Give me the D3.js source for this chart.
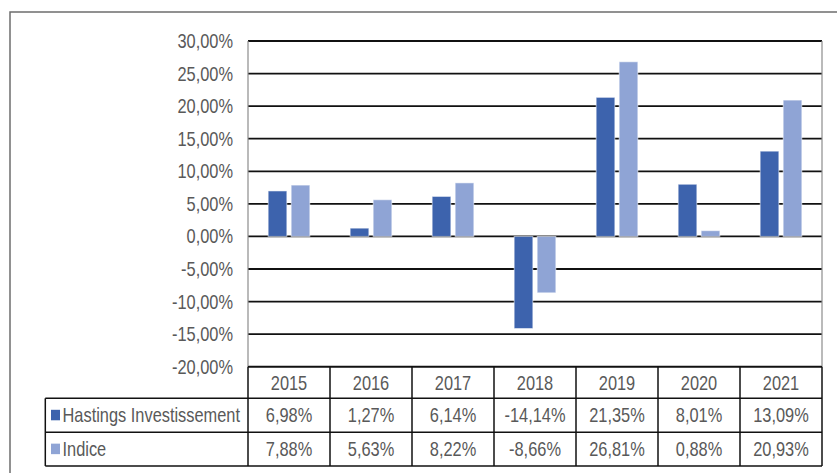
<!DOCTYPE html>
<html>
<head>
<meta charset="utf-8">
<script src="https://cdn.jsdelivr.net/npm/d3@7"></script>
<style>
  body { margin: 0; background: #fff; }
  text { font-family: "Liberation Sans", Arial, sans-serif; fill: #595959; }
</style>
</head>
<body>
<script>
// data
var years = ["2015", "2016", "2017", "2018", "2019", "2020", "2021"];
var seriesNames = ["Hastings Investissement", "Indice"];
var hastings = [6.98, 1.27, 6.14, -14.14, 21.35, 8.01, 13.09];
var indice = [7.88, 5.63, 8.22, -8.66, 26.81, 0.88, 20.93];
var yTicks = [30, 25, 20, 15, 10, 5, 0, -5, -10, -15, -20];
var colors = ["#3d63ad", "#8fa4d5"];

var width = 837, height = 473;
var plotL = 248, plotR = 822, plotT = 41, plotB = 366.7;
var rowH = [31.6, 34, 33.7];  // header row, series rows
var tableL = 45.3;

var svg = d3.select('body').append('svg').attr('width', width).attr('height', height);

// scales
var x = d3.scaleBand().domain(years).range([plotL, plotR]);
var xs = d3.scaleBand().domain(seriesNames).range([0, x.bandwidth()])
    .paddingInner(0.187).paddingOuter(0.876);
var y = d3.scaleLinear().domain([-20, 30]).range([plotB, plotT]);

// narrow text helper (Arial Narrow look)
function label(g, tx, ty, str, anchor) {
    return g.append('g').attr('transform', 'translate(' + tx + ',' + ty + ') scale(0.82,1)')
        .append('text')
        .attr('text-anchor', anchor)
        .attr('dy', '0.35em')
        .attr('font-size', '20px')
        .text(str);
}

function pct(v) {
    return v.toFixed(2).replace('.', ',') + '%';
}

// outer frame
svg.append('path')
    .attr('d', 'M10,' + height + 'V12H' + width)
    .attr('fill', 'none').attr('stroke', '#6e6e6e').attr('stroke-width', 1.5);

// gridlines
svg.append('g').selectAll('line')
    .data(yTicks)
    .join('line')
    .attr('x1', plotL).attr('x2', plotR)
    .attr('y1', d => y(d)).attr('y2', d => y(d))
    .attr('stroke', '#111').attr('stroke-width', 1.8);

// plot side edges
svg.append('line').attr('x1', plotL).attr('x2', plotL).attr('y1', plotT).attr('y2', plotB)
    .attr('stroke', '#8c8c8c').attr('stroke-width', 1.2);
svg.append('line').attr('x1', plotR).attr('x2', plotR).attr('y1', plotT).attr('y2', plotB)
    .attr('stroke', '#8c8c8c').attr('stroke-width', 1.2);

// y labels
var yl = svg.append('g');
yTicks.forEach(function(t) {
    label(yl, 233, y(t), pct(t), 'end');
});

// bars
var allSeries = [hastings, indice];
var bars = svg.append('g');
allSeries.forEach(function(vals, s) {
    bars.selectAll('rect.s' + s)
        .data(vals)
        .join('rect')
        .attr('class', 's' + s)
        .attr('x', (d, i) => x(years[i]) + xs(seriesNames[s]))
        .attr('width', xs.bandwidth())
        .attr('y', d => y(Math.max(0, d)))
        .attr('height', d => Math.abs(y(d) - y(0)))
        .attr('fill', colors[s])
        .attr('stroke', '#ffffff').attr('stroke-opacity', 0.55).attr('stroke-width', 1);
});

// data table
var row0 = plotB, row1 = row0 + rowH[0], row2 = row1 + rowH[1], row3 = row2 + rowH[2];
var tbl = svg.append('g');
var lineCol = '#111';

// horizontal lines
[[plotL, row0], [tableL, row1], [tableL, row2], [tableL, row3]].forEach(function(p) {
    tbl.append('line').attr('x1', p[0]).attr('x2', plotR).attr('y1', p[1]).attr('y2', p[1])
        .attr('stroke', lineCol).attr('stroke-width', 1.6);
});
// vertical lines
var vx = years.map(d => x(d)).concat([plotR]);
vx.forEach(function(vxi) {
    tbl.append('line').attr('x1', vxi).attr('x2', vxi).attr('y1', row0).attr('y2', row3)
        .attr('stroke', lineCol).attr('stroke-width', 1.5);
});
tbl.append('line').attr('x1', tableL).attr('x2', tableL).attr('y1', row1).attr('y2', row3)
    .attr('stroke', lineCol).attr('stroke-width', 1.5);

// year header
years.forEach(function(yr) {
    label(tbl, x(yr) + x.bandwidth() / 2, (row0 + row1) / 2, yr, 'middle');
});

// series rows
var rowTops = [row1, row2];
allSeries.forEach(function(vals, s) {
    var cy = rowTops[s] + rowH[s + 1] / 2;
    tbl.append('rect')
        .attr('x', 51).attr('y', cy - 5.5)
        .attr('width', 9).attr('height', 10.5)
        .attr('fill', colors[s]);
    label(tbl, 62.5, cy, seriesNames[s], 'start');
    vals.forEach(function(v, i) {
        label(tbl, x(years[i]) + x.bandwidth() / 2, cy, pct(v), 'middle');
    });
});
</script>
</body>
</html>
